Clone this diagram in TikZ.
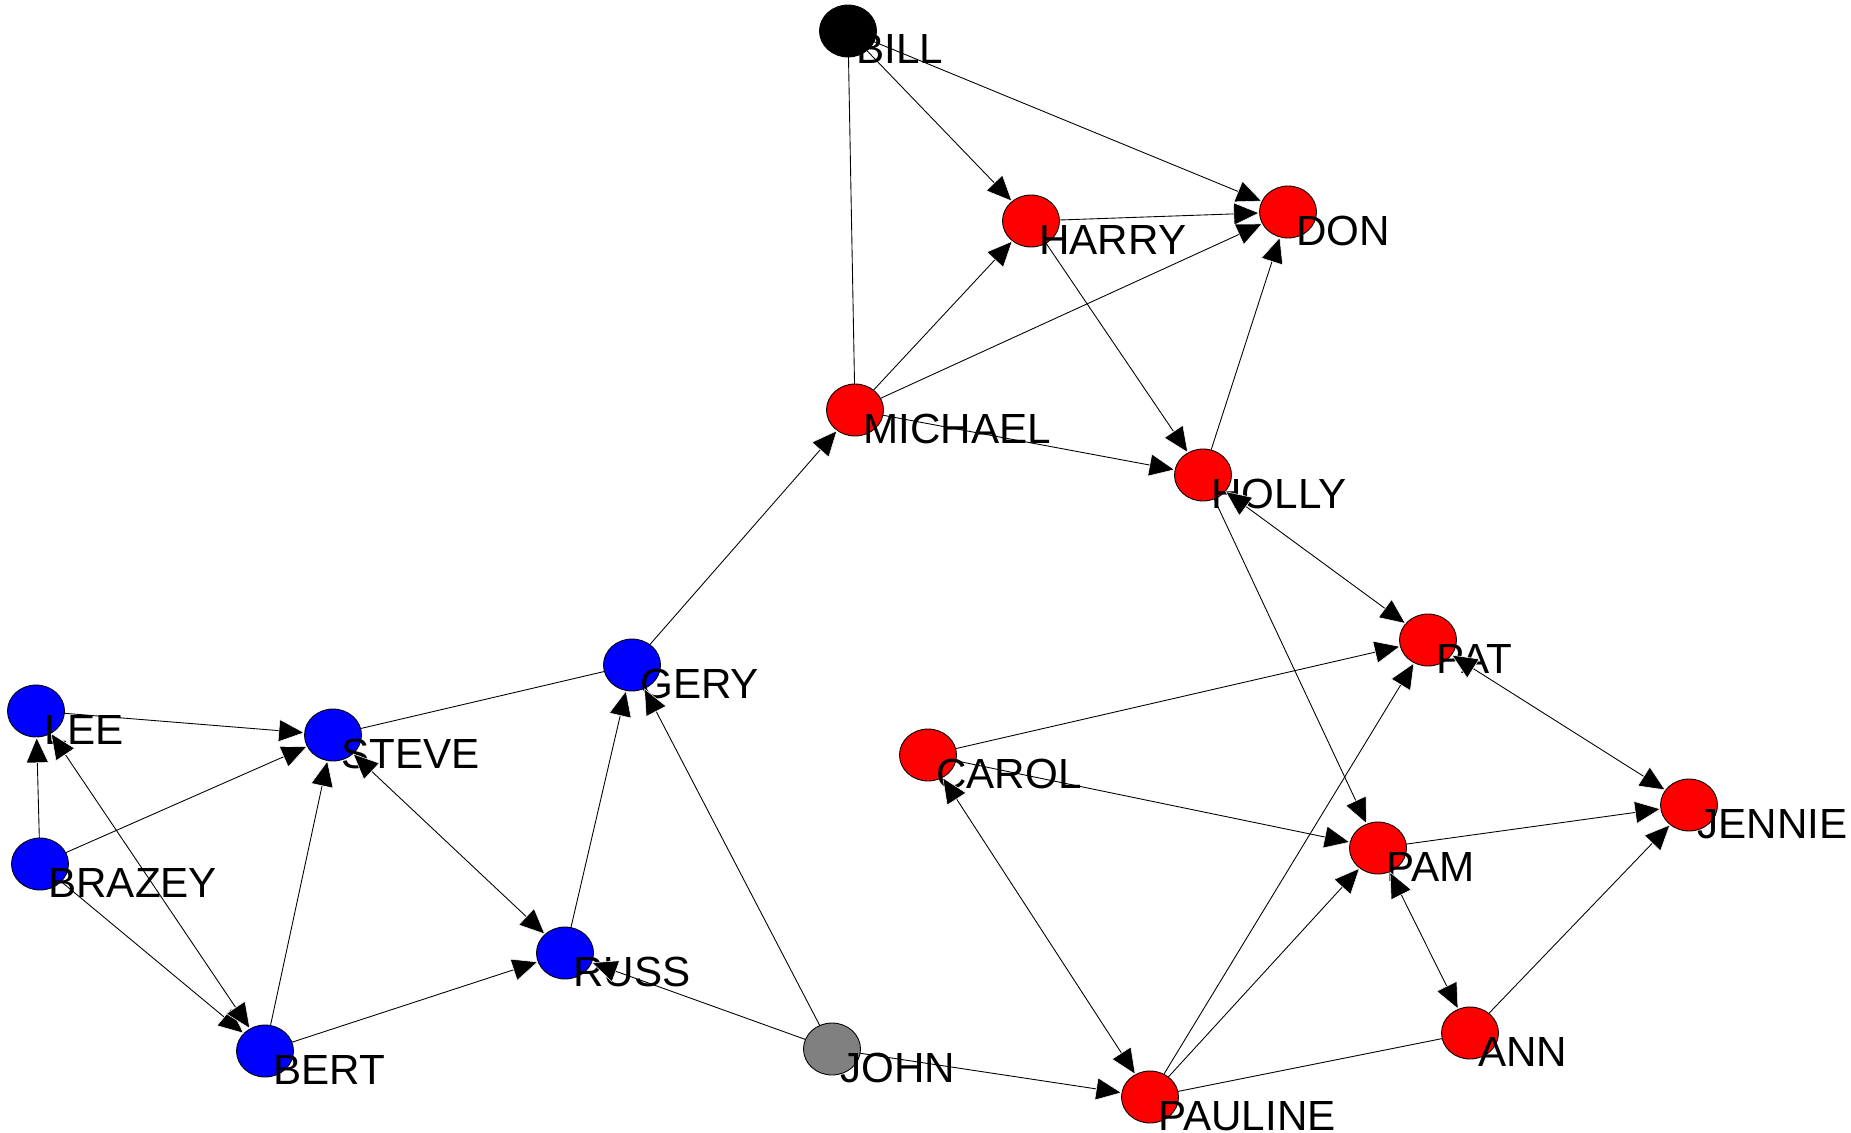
\documentclass[tikz,border=0pt]{standalone}
\usepackage{fontspec}
\setmainfont{Liberation Sans}
\usetikzlibrary{shapes.geometric,arrows.meta}

\begin{document}
\begin{tikzpicture}[
    x=0.02cm, y=-0.02cm,
    person/.style={ellipse, draw=black, line width=0.5pt, minimum width=1.14cm, minimum height=1.04cm, inner sep=0pt, outer sep=0pt},
    redp/.style={person, fill=red},
    bluep/.style={person, fill=blue},
    greyp/.style={person, fill=gray},
    blackp/.style={person, fill=black},
    tagtext/.style={anchor=base west, inner sep=0pt, font=\fontsize{24}{28}\selectfont},
    link/.style={line width=0.5pt},
    tip/.style={-{Triangle[length=0.52cm, width=0.46cm, fill=black, color=white, line width=0.3pt]}},
    arrow/.style={link, tip},
    both/.style={link, {Triangle[length=0.52cm, width=0.46cm, fill=black, color=white, line width=0.3pt]}-{Triangle[length=0.52cm, width=0.46cm, fill=black, color=white, line width=0.3pt]}},
]
    \fill[white] (0,0) rectangle (1851,1132);
    \useasboundingbox (0,0) rectangle (1851,1132);

    % people
    \node[blackp] (bill) at (848,31) {};
    \node[redp] (harry) at (1031,221) {};
    \node[redp] (don) at (1288,212) {};
    \node[redp] (michael) at (855,410) {};
    \node[redp] (holly) at (1203,475) {};
    \node[redp] (pat) at (1428,640) {};
    \node[bluep] (gery) at (632,665) {};
    \node[bluep] (lee) at (36,711) {};
    \node[bluep] (steve) at (333,735) {};
    \node[redp] (carol) at (928,755) {};
    \node[bluep] (brazey) at (40,864) {};
    \node[redp] (pam) at (1378,848) {};
    \node[redp] (jennie) at (1689,805) {};
    \node[bluep] (russ) at (565,953) {};
    \node[bluep] (bert) at (265,1051) {};
    \node[greyp] (john) at (832,1049) {};
    \node[redp] (ann) at (1470,1033) {};
    \node[redp] (pauline) at (1150,1097) {};

    % names, set just right of and below each centre
    \foreach \who/\txt in {bill/BILL, harry/HARRY, don/DON, michael/MICHAEL, holly/HOLLY,
        pat/PAT, gery/GERY, lee/LEE, steve/STEVE, carol/CAROL, brazey/BRAZEY, pam/PAM,
        jennie/JENNIE, russ/RUSS, bert/BERT, john/JOHN, ann/ANN, pauline/PAULINE}
        \node[tagtext] (\who-t) at ([shift={(8,33)}]\who.center) {\txt};

    % ties
    \draw[link] (bill) -- (michael);
    \draw[arrow] (bill) -- (harry);
    \draw[arrow] (bill) -- (don);
    \draw[arrow] (harry) -- (don);
    \draw[arrow] (michael) -- (harry);
    \draw[arrow] (michael) -- (don);
    \draw[arrow] (holly) -- (don);
    \draw[arrow] (harry) -- (holly);
    \draw[arrow] (michael) -- (holly);
    \draw[arrow] (gery) -- (michael);
    \draw[both] (holly) -- (pat);
    \draw[arrow] (holly) -- (pam);
    \draw[arrow] (carol) -- (pat);
    \draw[arrow] (carol) -- (pam);
    \draw[both] (carol) -- (pauline);
    \draw[arrow] (pauline) -- (pat);
    \draw[arrow] (pauline) -- (pam);
    \draw[both] (pat) -- (jennie);
    \draw[arrow] (pam) -- (jennie);
    \draw[arrow] (ann) -- (jennie);
    \draw[both] (ann) -- (pam);
    \draw[link] (pauline) -- (ann);
    \draw[arrow] (john) -- (pauline);
    \draw[arrow] (john) -- (russ);
    \draw[arrow] (john) -- (gery);
    \draw[arrow] (russ) -- (gery);
    \draw[link] (steve) -- (gery);
    \draw[both] (steve) -- (russ);
    \draw[arrow] (lee) -- (steve);
    \draw[arrow] (brazey) -- (lee);
    \draw[arrow] (brazey) -- (steve);
    \draw[arrow] (brazey) -- (bert);
    \draw[both] (bert) -- (lee);
    \draw[arrow] (bert) -- (steve);
    \draw[arrow] (bert) -- (russ);
\end{tikzpicture}
\end{document}
